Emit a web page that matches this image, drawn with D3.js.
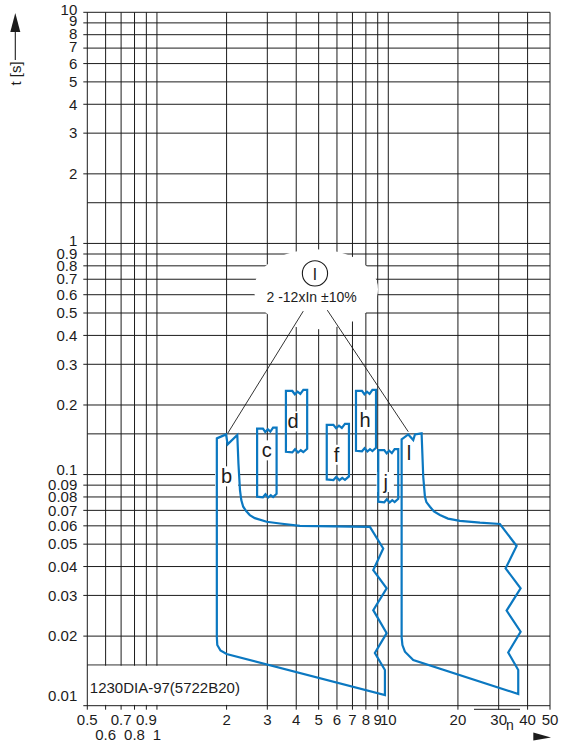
<!DOCTYPE html>
<html>
<head>
<meta charset="utf-8">
<script src="https://cdn.jsdelivr.net/npm/d3@7"></script>
<style>
  body { margin: 0; background: #fff; }
  svg { display: block; }
  text { font-family: "Liberation Sans", Arial, Helvetica, sans-serif; fill: #1c1c1c; }
</style>
</head>
<body>
<svg id="chart" width="564" height="745"></svg>
<script>
// ---- data -------------------------------------------------------------
// x: multiple of rated current I/In, y: tripping time t [s]
const xTicks = [0.5, 0.6, 0.7, 0.8, 0.9, 1, 2, 3, 4, 5, 6, 7, 8, 9, 10, 20, 30, 40, 50];
const xTickLabels = ["0.5", "0.6", "0.7", "0.8", "0.9", "1", "2", "3", "4", "5", "6", "7", "8", "9", "10", "20", "30", "40", "50"];
const xSecondRow = ["0.6", "0.8", "1"];

const yTicks = [0.01, 0.02, 0.03, 0.04, 0.05, 0.06, 0.07, 0.08, 0.09,
                0.1, 0.2, 0.3, 0.4, 0.5, 0.6, 0.7, 0.8, 0.9,
                1, 2, 3, 4, 5, 6, 7, 8, 9, 10];
const yTickLabels = ["0.01", "0.02", "0.03", "0.04", "0.05", "0.06", "0.07", "0.08", "0.09",
                     "0.1", "0.2", "0.3", "0.4", "0.5", "0.6", "0.7", "0.8", "0.9",
                     "1", "2", "3", "4", "5", "6", "7", "8", "9", "10"];
const yExtraLines = [0.015, 0.15, 1.5];

// tripping band "b" (outline, I/In vs t)
const bandB = [
  [1.815, 0.1434], [1.99, 0.1492], [2.02, 0.1351], [2.225, 0.1482],
  [2.25, 0.112], [2.285, 0.0857], [2.315, 0.0776], [2.36, 0.0726], [2.43, 0.0695],
  [2.52, 0.0668], [2.65, 0.0648], [2.98, 0.0625], [3.40, 0.0614], [4.15, 0.0600], [8.33, 0.0594],
  [9.51, 0.0479], [8.61, 0.0386], [9.84, 0.0322], [8.61, 0.0259], [9.84, 0.0206],
  [8.75, 0.0169], [9.67, 0.01427], [9.67, 0.01112],
  [2.0, 0.01673], [1.882, 0.01733], [1.823, 0.0183], [1.815, 0.0198]
];

// tripping band "l"
const bandL = [
  [11.42, 0.142], [12.20, 0.1492], [12.82, 0.141], [13.04, 0.1492], [13.93, 0.1508],
  [14.16, 0.0978], [14.40, 0.0802], [14.61, 0.0760], [15.14, 0.0726], [15.75, 0.0692],
  [16.72, 0.0668], [18.11, 0.0645], [20.4, 0.0631], [24.9, 0.0619], [30.37, 0.0611],
  [35.87, 0.0491], [32.14, 0.0393], [37.32, 0.0322], [32.46, 0.0258], [37.32, 0.0209],
  [32.99, 0.0170], [36.45, 0.01427], [36.45, 0.01124],
  [12.82, 0.01576], [11.8, 0.01713], [11.51, 0.0183], [11.42, 0.0198]
];

// short bands c, d, f, h, j (current range and time range)
const boxNames = ["c", "d", "f", "h", "j"];
const boxI0 = [2.71, 3.61, 5.42, 7.25, 9.05];
const boxI1 = [3.29, 4.46, 6.76, 8.85, 11.04];
const boxTop = [0.158, 0.23, 0.164, 0.23, 0.1276];
const boxBottom = [0.0802, 0.1255, 0.0953, 0.1268, 0.0763];

// letter of every band and where it sits (I/In, t at the text baseline)
const bandLetters = ["b", "c", "d", "f", "h", "j", "l"];
const letterI = [2.0, 2.98, 3.88, 5.98, 7.93, 9.74, 12.3];
const letterT = [0.0916, 0.1187, 0.1584, 0.1136, 0.1609, 0.0866, 0.1155];

// setting-range note for band l
const noteText = "2 -12xIn \u00b110%";
const noteCenter = [4.87, 0.634];
const noteCircle = [4.82, 0.742];
const noteTextPos = [4.66, 0.557];
const leaderLines = [
  [[4.29, 0.5094], [2.022, 0.1508]],
  [[5.45, 0.5145], [12.2, 0.1532]]
];
const figureId = "1230DIA-97(5722B20)";

// ---- scales -----------------------------------------------------------
const svg = d3.select("#chart");
const plotLeft = 87.3, plotRight = 550, plotTop = 12.3, plotBottom = 705.7;
const x = d3.scaleLog().domain([0.5, 50]).range([plotLeft, plotRight]);
const y = d3.scaleLog().domain([0.01, 10]).range([plotBottom, plotTop]);
const blue = "#0b78c1";
const ink = "#1c1c1c";
const tickLen = 4;

svg.append("rect").attr("width", 564).attr("height", 745).attr("fill", "#fff");

// ---- grid -------------------------------------------------------------
const grid = svg.append("g").attr("stroke", ink).attr("stroke-width", 1);
grid.selectAll("line.h").data(yTicks).join("line").attr("class", "h")
  .attr("x1", plotLeft - tickLen).attr("x2", plotRight)
  .attr("y1", d => y(d)).attr("y2", d => y(d));
grid.selectAll("line.hx").data(yExtraLines).join("line").attr("class", "hx")
  .attr("x1", plotLeft).attr("x2", plotRight)
  .attr("y1", d => y(d)).attr("y2", d => y(d));
grid.selectAll("line.v").data(xTicks).join("line").attr("class", "v")
  .attr("x1", d => x(d)).attr("x2", d => x(d))
  .attr("y1", plotTop).attr("y2", plotBottom + tickLen);

// ---- white knock-outs -------------------------------------------------
const knock = svg.append("g").attr("fill", "#fff");
knock.append("ellipse")
  .attr("cx", x(noteCenter[0])).attr("cy", y(noteCenter[1]))
  .attr("rx", 62).attr("ry", 40);
knock.append("rect")
  .attr("x", plotLeft + 0.8).attr("y", y(0.015) + 0.8)
  .attr("width", x(2.52) - plotLeft - 0.8).attr("height", plotBottom - y(0.015) - 1.6);
const letterBg = svg.append("g").attr("fill", "#fff");

// figure id in the lower-left box
svg.append("text")
  .attr("x", plotLeft + 2.5).attr("y", y(0.01135))
  .attr("font-size", 15).text(figureId);

// ---- note with leader lines ------------------------------------------
svg.append("g").attr("stroke", ink).attr("stroke-width", 0.9)
  .selectAll("line").data(leaderLines).join("line")
  .attr("x1", d => x(d[0][0])).attr("y1", d => y(d[0][1]))
  .attr("x2", d => x(d[1][0])).attr("y2", d => y(d[1][1]));
svg.append("circle")
  .attr("cx", x(noteCircle[0])).attr("cy", y(noteCircle[1])).attr("r", 12.6)
  .attr("fill", "#fff").attr("stroke", ink).attr("stroke-width", 1.1);
svg.append("text")
  .attr("x", x(noteCircle[0])).attr("y", y(noteCircle[1]))
  .attr("dy", "0.36em").attr("text-anchor", "middle").attr("font-size", 17)
  .text("l");
svg.append("text")
  .attr("x", x(noteTextPos[0])).attr("y", y(noteTextPos[1]))
  .attr("text-anchor", "middle").attr("font-size", 14)
  .text(noteText);

// ---- blue tripping bands ---------------------------------------------
const line = d3.line().x(d => x(d[0])).y(d => y(d[1]));
const bands = svg.append("g")
  .attr("fill", "none").attr("stroke", blue).attr("stroke-width", 2.2)
  .attr("stroke-linejoin", "miter").attr("stroke-miterlimit", 6);
bands.selectAll("path.band").data([bandB, bandL]).join("path").attr("class", "band")
  .attr("d", d => line(d) + "Z");

// torn edges of the short bands (fraction of width, offset in px)
const tornTop = [[0, 0], [0.3, 0], [0.42, 3.3], [0.55, 0.7], [0.68, 3], [0.82, -1], [1, -1]];
const tornBottom = [[0, 0], [0.3, 0.6], [0.43, -2.5], [0.57, 0.8], [0.7, -1.5], [0.82, 0.4], [1, -3]];
const boxes = boxNames.map((n, k) => ({ n, i0: boxI0[k], i1: boxI1[k], t0: boxTop[k], t1: boxBottom[k] }));
bands.selectAll("path.box").data(boxes).join("path").attr("class", "box")
  .attr("d", b => {
    const X0 = x(b.i0), X1 = x(b.i1), T = y(b.t0), B = y(b.t1), w = X1 - X0;
    const pts = tornTop.map(([f, o]) => [X0 + f * w, T + o])
      .concat(tornBottom.slice().reverse().map(([f, o]) => [X0 + f * w, B + o]));
    return d3.line()(pts) + "Z";
  });

// ---- band letters (white backing goes under the bands) ----------------
const letters = bandLetters.map((s, k) => ({ s, i: letterI[k], t: letterT[k] }));
svg.append("g").selectAll("text").data(letters).join("text")
  .attr("x", d => x(d.i)).attr("y", d => y(d.t))
  .attr("text-anchor", "middle").attr("font-size", 20)
  .text(d => d.s)
  .each(function () {
    const bb = this.getBBox();
    letterBg.append("rect")
      .attr("x", bb.x - 6).attr("y", bb.y + 1)
      .attr("width", bb.width + 12).attr("height", bb.height - 2);
  });

// ---- axis labels ------------------------------------------------------
const yShift = { "10": -2.5, "9": -2, "8": -1.4, "7": -1.4, "1": -3, "0.1": -4.5, "0.01": -10 };
svg.append("g").selectAll("text").data(yTicks).join("text")
  .attr("x", plotLeft - 10).attr("y", (d, k) => y(d) + (yShift[yTickLabels[k]] || 0))
  .attr("dy", "0.35em").attr("text-anchor", "end").attr("font-size", 15)
  .text((d, k) => yTickLabels[k]);

svg.append("g").selectAll("text").data(xTicks).join("text")
  .attr("x", d => x(d))
  .attr("y", (d, k) => xSecondRow.includes(xTickLabels[k]) ? 735 : 720)
  .attr("dy", "0.35em").attr("text-anchor", "middle").attr("font-size", 15)
  .text((d, k) => xTickLabels[k]);

// x quantity: I / In
svg.append("line").attr("x1", 474).attr("x2", 520).attr("y1", 709.3).attr("y2", 709.3)
  .attr("stroke", ink).attr("stroke-width", 1);
svg.append("text").attr("x", 510).attr("y", 730).attr("text-anchor", "middle")
  .attr("font-size", 14).text("n");
svg.append("path").attr("d", "M533.3,732.6 L551,737.6 L533.3,740.4 Z").attr("fill", ink);

// y quantity with arrow
svg.append("line").attr("x1", 15.3).attr("x2", 15.3).attr("y1", 60).attr("y2", 30)
  .attr("stroke", ink).attr("stroke-width", 1.1);
svg.append("path").attr("d", "M10.3,32 L15.3,13 L20.3,32 Z").attr("fill", ink);
svg.append("text").attr("transform", "translate(20.8,73.5) rotate(-90)")
  .attr("text-anchor", "middle").attr("font-size", 15).text("t [s]");
</script>
</body>
</html>
